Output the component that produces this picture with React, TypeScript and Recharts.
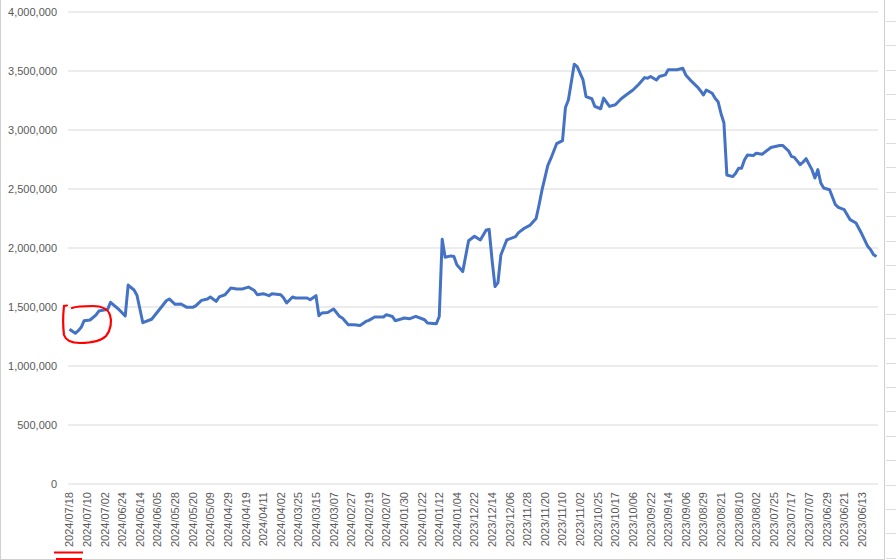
import React from "react";
import { CartesianGrid, Line, LineChart, XAxis, YAxis } from "recharts";

// trading-day index (0 = 2024/07/18, counting back in time) and balance
const dayIndex = [
  0, 2, 3, 4, 5, 7, 9, 10, 13, 14, 17, 19, 20, 22, 23, 25, 28, 31, 33, 34, 36, 38, 40, 42, 43, 45, 47, 48, 50,
  51, 53, 55, 57, 59, 61, 63, 64, 66, 68, 69, 72, 73, 74, 76, 77, 79, 81, 82, 84, 85, 86, 88, 90, 92, 93, 95,
  97, 99, 101, 102, 104, 107, 108, 110, 111, 113, 114, 116, 118, 121, 122, 125, 126, 127, 128, 130, 131, 132,
  134, 136, 138, 140, 142, 143, 144, 145, 146, 147, 149, 152, 153, 155, 157, 159, 160, 161, 163, 164, 166, 168,
  169, 170, 172, 173, 175, 176, 178, 179, 181, 182, 184, 186, 188, 190, 192, 194, 196, 197, 198, 200, 201, 203,
  204, 207, 209, 210, 212, 214, 215, 216, 217, 219, 220, 221, 222, 223, 224, 226, 227, 228, 229, 230, 231, 233,
  234, 236, 238, 239, 242, 243, 245, 246, 247, 249, 250, 251, 253, 254, 255, 256, 257, 259, 261, 262, 264, 266,
  268, 270, 272, 273, 274, 275,
];

const balance = [
  1311000, 1277000, 1299000, 1328000, 1384000, 1390000, 1432000, 1466000, 1480000, 1540000, 1475000, 1424000,
  1686000, 1644000, 1600000, 1367000, 1396000, 1489000, 1553000, 1568000, 1523000, 1525000, 1497000, 1497000,
  1510000, 1556000, 1568000, 1585000, 1548000, 1585000, 1604000, 1661000, 1653000, 1653000, 1669000, 1640000,
  1604000, 1613000, 1596000, 1613000, 1604000, 1576000, 1534000, 1585000, 1576000, 1576000, 1576000, 1562000,
  1596000, 1426000, 1449000, 1454000, 1483000, 1420000, 1407000, 1350000, 1350000, 1344000, 1378000, 1387000,
  1415000, 1415000, 1435000, 1420000, 1384000, 1398000, 1407000, 1401000, 1420000, 1392000, 1364000, 1358000,
  1420000, 2074000, 1922000, 1933000, 1928000, 1858000, 1800000, 2062000, 2100000, 2068000, 2153000, 2158000,
  1898000, 1673000, 1707000, 1941000, 2068000, 2096000, 2130000, 2167000, 2194000, 2250000, 2364000, 2490000,
  2700000, 2757000, 2884000, 2910000, 3190000, 3254000, 3557000, 3537000, 3424000, 3283000, 3265000, 3200000,
  3180000, 3270000, 3200000, 3214000, 3265000, 3303000, 3339000, 3388000, 3444000, 3438000, 3453000, 3424000,
  3453000, 3467000, 3510000, 3510000, 3523000, 3467000, 3412000, 3364000, 3333000, 3297000, 3339000, 3311000,
  3269000, 3240000, 3140000, 3060000, 2619000, 2605000, 2634000, 2676000, 2676000, 2746000, 2788000, 2783000,
  2803000, 2795000, 2832000, 2852000, 2869000, 2869000, 2824000, 2776000, 2768000, 2706000, 2729000, 2757000,
  2664000, 2593000, 2664000, 2551000, 2508000, 2494000, 2367000, 2344000, 2325000, 2240000, 2212000, 2118000,
  2014000, 1986000, 1943000, 1928000,
];

// one label every 6 trading days
const dateLabels = [
  "2024/07/18", "2024/07/10", "2024/07/02", "2024/06/24", "2024/06/14", "2024/06/05", "2024/05/28",
  "2024/05/20", "2024/05/09", "2024/04/29", "2024/04/19", "2024/04/11", "2024/04/02", "2024/03/25",
  "2024/03/15", "2024/03/07", "2024/02/27", "2024/02/19", "2024/02/07", "2024/01/30", "2024/01/22",
  "2024/01/12", "2024/01/04", "2023/12/22", "2023/12/14", "2023/12/06", "2023/11/28", "2023/11/20",
  "2023/11/10", "2023/11/02", "2023/10/25", "2023/10/17", "2023/10/06", "2023/09/22", "2023/09/14",
  "2023/09/06", "2023/08/29", "2023/08/21", "2023/08/10", "2023/08/02", "2023/07/25", "2023/07/17",
  "2023/07/07", "2023/06/29", "2023/06/21", "2023/06/13",
];
const LABEL_STEP = 6;
const DAY_COUNT = 276;

const yTicks = [0, 500000, 1000000, 1500000, 2000000, 2500000, 3000000, 3500000, 4000000];

const data = dayIndex.map((day, i) => ({ day, value: balance[i] }));
const xTicks = dateLabels.map((_, i) => i * LABEL_STEP);

const FONT = "'Liberation Sans', Arial, sans-serif";
const TEXT = "#595959";

function DateTick({ x, y, payload }: any) {
  const label = dateLabels[Math.round(payload.value / LABEL_STEP)] ?? "";
  return (
    <g transform={`translate(${x},${y})`}>
      <text transform="rotate(-90)" textAnchor="end" dy="0.36em" fill={TEXT} fontSize={11} fontFamily={FONT}>
        {label}
      </text>
    </g>
  );
}

export default function App() {
  return (
    <div style={{ position: "relative", width: 896, height: 560, background: "#fff", overflow: "hidden" }}>
      <style>{`body{margin:0}`}</style>
      <div
        style={{
          position: "absolute",
          left: 0,
          top: -2,
          width: 883,
          height: 560,
          border: "1px solid #d0d0d0",
        }}
      />
      <div
        style={{
          position: "absolute",
          left: 886,
          top: 0,
          width: 10,
          height: 560,
          backgroundImage: "repeating-linear-gradient(to bottom, transparent 0px, transparent 21px, #dcdcdc 21px, #dcdcdc 22px, transparent 22px, transparent 24.4px)",
        }}
      />
      <div style={{ position: "absolute", left: 0, top: 0 }}>
        <LineChart width={884} height={560} data={data} margin={{ top: 12, right: 6, bottom: 6, left: 0 }}>
          <CartesianGrid vertical={false} stroke="#d9d9d9" />
          <XAxis
            dataKey="day"
            type="number"
            domain={[-0.5, DAY_COUNT - 0.5]}
            ticks={xTicks}
            interval={0}
            tick={<DateTick />}
            tickLine={false}
            axisLine={false}
            tickSize={0}
            tickMargin={8}
            height={70}
          />
          <YAxis
            domain={[0, 4000000]}
            ticks={yTicks}
            interval={0}
            width={68}
            tickLine={false}
            axisLine={false}
            tickMargin={5}
            tickFormatter={(v: number) => v.toLocaleString("en-US")}
            tick={{ fill: TEXT, fontSize: 11, fontFamily: FONT }}
          />
          <Line
            type="linear"
            dataKey="value"
            stroke="#4472C4"
            strokeWidth={3}
            strokeLinejoin="round"
            dot={false}
            isAnimationActive={false}
          />
        </LineChart>
      </div>
      <svg
        width={896}
        height={560}
        style={{ position: "absolute", left: 0, top: 0, pointerEvents: "none" }}
      >
        <path
          d="M67 305.5 L64 306 C63 315 63 327 64 335 C66 341 72 343 80 343 C92 343 101 341 106 336 C111 330 112 321 110 315 C108 309 101 306 93 306 C84 306 77 306 72 308"
          fill="none"
          stroke="#ff0000"
          strokeWidth={2.2}
          strokeLinecap="round"
        />
        <line x1={54} y1={552.5} x2={83} y2={552.5} stroke="#ff0000" strokeWidth={2} />
        <line x1={56} y1={559} x2={82} y2={559} stroke="#ff0000" strokeWidth={2} />
      </svg>
    </div>
  );
}
